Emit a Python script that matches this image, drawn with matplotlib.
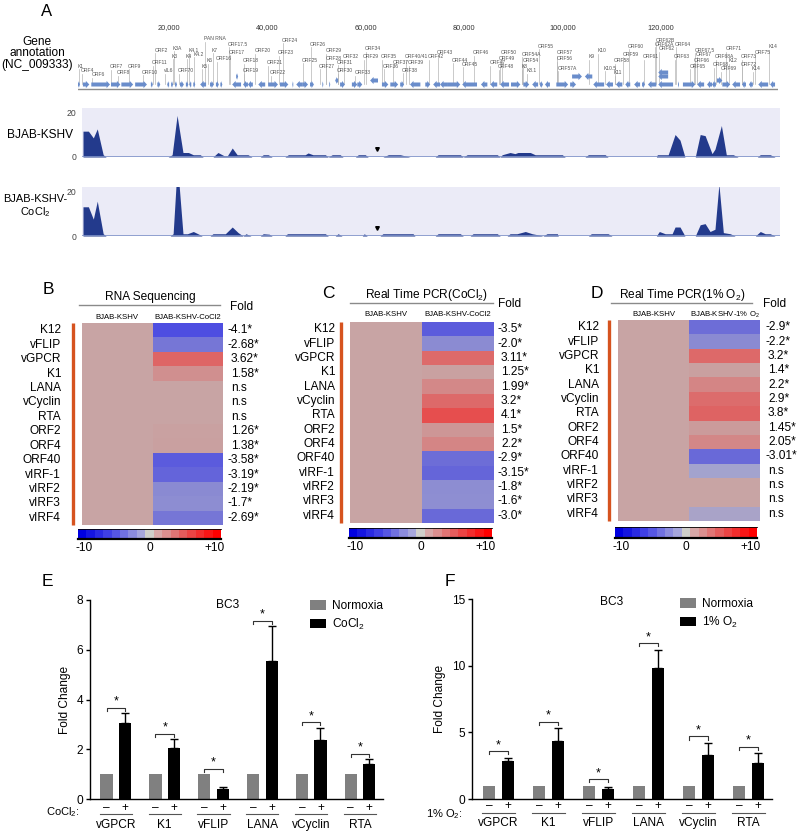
import numpy as np
import matplotlib
matplotlib.use('Agg')
import matplotlib.pyplot as plt
from matplotlib.colors import LinearSegmentedColormap, Normalize
from matplotlib.patches import Polygon, Patch
from matplotlib.lines import Line2D

plt.rcParams['font.family'] = ['Liberation Sans', 'DejaVu Sans']
plt.rcParams['mathtext.fontset'] = 'custom'
plt.rcParams['mathtext.rm'] = 'Liberation Sans'
plt.rcParams['mathtext.it'] = 'Liberation Sans:italic'
plt.rcParams['mathtext.bf'] = 'Liberation Sans:bold'

# ---------------------------------------------------------------- data
genome_ticks_kb = [20, 40, 60, 80, 100, 120]

gene_start = [1.6, 2.6, 4.3, 8.3, 10.4, 13.2, 16.4, 17.7, 19.7, 20.5, 21.3, 22.3, 23.5, 24.2,
              25.0, 26.4, 28.4, 29.6, 30.5, 33.7, 32.9, 35.1, 36.1, 38.2, 40.2, 42.6, 45.1, 45.9,
              47.1, 48.7, 51.2, 52.6, 53.8, 54.8, 57.2, 58.3, 60.9, 63.3, 65.0, 67.0, 69.0, 72.1,
              73.7, 75.1, 76.7, 79.6, 83.4, 85.3, 87.3, 89.5, 92.0, 93.8, 95.4, 96.4, 98.7, 101.5,
              101.9, 104.5, 106.2, 108.8, 110.8, 112.7, 114.5, 116.1, 117.3, 119.4, 119.4, 119.4,
              123.4, 124.4, 127.3, 129.3, 130.3, 131.3, 132.4, 134.4, 136.4, 137.8, 139.7, 142.1]
gene_end = [2.0, 3.9, 8.1, 10.2, 12.8, 15.6, 16.8, 18.3, 20.1, 20.9, 21.7, 23.1, 24.0, 24.6,
            25.4, 27.6, 29.2, 30.2, 30.9, 34.1, 34.7, 36.1, 37.1, 39.6, 42.2, 44.3, 45.3, 47.1,
            48.3, 49.5, 51.4, 52.8, 54.4, 55.8, 58.3, 59.3, 62.5, 64.6, 66.6, 67.8, 71.1, 73.1,
            75.1, 76.7, 79.2, 82.6, 84.7, 86.7, 89.1, 91.4, 93.2, 95.0, 96.0, 97.4, 101.1, 102.7,
            103.9, 106.0, 108.4, 110.2, 112.1, 113.7, 115.7, 116.7, 119.0, 122.4, 121.4, 121.4,
            123.6, 126.9, 128.7, 130.3, 131.1, 132.4, 134.0, 136.0, 137.2, 138.6, 141.7, 143.1]
gene_strand = [1, 1, 1, 1, 1, 1, 1, 1, -1, 1, 1, 1, 1, -1,
               1, -1, 1, 1, 1, 1, -1, -1, -1, -1, 1, 1, -1, -1,
               1, 1, 1, 1, -1, 1, 1, 1, -1, 1, 1, 1, -1, 1,
               -1, -1, 1, -1, -1, -1, -1, 1, 1, -1, 1, -1, 1, 1,
               1, -1, -1, -1, -1, -1, -1, 1, -1, -1, -1, -1,
               1, 1, -1, -1, -1, 1, 1, -1, -1, -1, -1, -1]
gene_lane = [0, 0, 0, 0, 0, 0, 0, 0, 0, 0, 0, 0, 0, 0,
             0, 0, 0, 0, 0, 2, 0, 0, 0, 0, 0, 0, 0, 0,
             0, 0, 0, 0, 1, 0, 0, 0, 1, 0, 0, 0, 0, 0,
             0, 0, 0, 0, 0, 0, 0, 0, 0, 0, 0, 0, 0, 0,
             2, 2, 0, 0, 0, 0, 0, 0, 0, 0, 2, 3,
             0, 0, 0, 0, 0, 1, 0, 0, 0, 0, 0, 0]

label_names = ['K1', 'ORF4', 'ORF6', 'ORF7', 'ORF8', 'ORF9', 'ORF10', 'ORF11', 'ORF2', 'vIL6',
               'K3', 'K3A', 'ORF70', 'K4', 'K4.1', 'K4.2', 'K5', 'K6', 'PAN RNA', 'K7', 'ORF16',
               'ORF17.5', 'ORF17', 'ORF18', 'ORF19', 'ORF20', 'ORF21', 'ORF22', 'ORF23', 'ORF24',
               'ORF25', 'ORF26', 'ORF27', 'ORF28', 'ORF29', 'ORF30', 'ORF31', 'ORF32', 'ORF33',
               'ORF34', 'ORF29', 'ORF35', 'ORF36', 'ORF37', 'ORF38', 'ORF40/41', 'ORF39', 'ORF42',
               'ORF43', 'ORF44', 'ORF45', 'ORF46', 'ORF47', 'ORF48', 'ORF49', 'ORF50', 'ORF54A',
               'ORF54', 'K8', 'K8.1', 'ORF55', 'ORF57', 'ORF56', 'ORF57A', 'K9', 'K10', 'K10.5',
               'K11', 'ORF58', 'ORF59', 'ORF60', 'ORF61', 'ORF62B', 'ORF62A', 'ORF62', 'ORF64',
               'ORF63', 'ORF67.5', 'ORF67', 'ORF66', 'ORF65', 'ORF68A', 'ORF68', 'ORF69', 'K12',
               'ORF71', 'ORF73', 'ORF72', 'K14', 'ORF75', 'K14']
label_kb = [1.6, 2.2, 4.3, 8.1, 9.5, 11.8, 14.6, 16.6, 17.1, 19.1,
            20.7, 20.9, 21.9, 23.5, 24.0, 25.0, 26.6, 27.8, 27.2, 28.8, 29.6,
            32.1, 32.3, 35.1, 35.1, 37.4, 40.0, 40.6, 42.2, 43.0,
            47.1, 48.7, 50.5, 51.8, 51.8, 54.2, 54.2, 55.4, 57.7,
            59.9, 59.5, 63.1, 63.5, 65.4, 67.4, 68.0, 68.6, 72.7,
            74.5, 77.5, 79.6, 81.8, 85.1, 86.9, 87.1, 87.5, 91.6,
            91.8, 91.6, 92.6, 95.0, 98.7, 98.7, 98.9, 105.2, 107.0, 108.4,
            110.4, 110.4, 112.1, 113.3, 116.3, 118.8, 118.6, 119.4, 122.8,
            122.6, 126.7, 127.1, 126.5, 125.7, 130.9, 130.5, 132.0, 133.6,
            133.0, 136.2, 136.2, 138.4, 138.9, 141.7]
label_level = [66, 71, 75, 67, 73, 66, 72, 63, 50, 71,
               56, 48, 71, 56, 50, 54, 66, 61, 39, 50, 59,
               44, 52, 61, 71, 51, 63, 73, 53, 40,
               60, 44, 66, 58, 51, 71, 62, 57, 73,
               49, 57, 57, 66, 62, 70, 57, 63, 57,
               52, 60, 64, 53, 63, 67, 59, 53, 54,
               61, 67, 71, 46, 53, 59, 68, 57, 51, 68,
               73, 61, 54, 46, 57, 40, 44, 49, 44,
               57, 50, 54, 60, 66, 57, 65, 69, 61,
               49, 57, 64, 69, 52, 47]

cov1_kb = [2.6, 3.7, 4.7, 5.5, 6.7, 7.3, 19.9, 20.7, 21.7, 22.9, 24.0, 25.0, 26.4, 27.0,
           29.0, 30.0, 31.3, 31.9, 32.9, 33.9, 36.1, 36.9, 38.6, 39.2, 40.2, 41.0,
           43.6, 44.3, 47.7, 48.3, 49.3, 51.8, 52.4, 53.2, 54.8, 55.4, 57.9, 58.5, 59.9, 60.5,
           63.5, 64.6, 67.0, 69.0, 74.1, 74.7, 79.2, 79.8, 80.6, 86.7, 87.3,
           87.7, 89.3, 90.3, 90.9, 93.4, 94.4, 99.9, 100.5, 104.5, 105.2, 108.6, 109.2,
           119.0, 119.2, 121.4, 122.8, 123.8, 124.8, 126.9, 127.9, 128.9, 130.3, 130.9,
           132.2, 133.2, 134.6, 135.6, 139.5, 140.1, 142.1, 143.1]
cov1_val = [11.5, 11.5, 8.5, 12.5, 1, 0, 0, 1, 18.5, 2, 2, 1, 1, 0,
            0, 2, 0.5, 0.5, 4, 1, 1, 0, 0, 1, 1, 0,
            0, 1, 1, 1.8, 1, 1, 0, 1, 1, 0, 0, 1, 1, 0,
            0, 1, 1, 0, 0, 1, 1, 0, 1, 1, 0,
            1, 2, 1.5, 2, 2, 1, 1, 0, 0, 1, 1, 0,
            0, 1, 1, 10, 7.5, 0, 0, 10, 9.5, 1.5, 3.5,
            14, 1, 1, 0, 0, 1, 1, 0]
cov2_kb = [2.6, 3.7, 4.7, 5.5, 6.7, 7.3, 20.3, 20.9, 21.5, 22.1, 22.9, 23.8, 25.0, 26.4, 26.8,
           28.4, 29.0, 31.5, 32.9, 34.1, 35.1, 35.7, 36.7, 38.6, 39.2, 40.4, 41.0,
           43.6, 44.1, 51.8, 52.4, 53.8, 54.4, 55.2, 59.3, 59.7, 60.3,
           62.9, 63.5, 67.0, 69.6, 70.0, 74.1, 74.7, 79.2, 79.8, 81.2, 81.8, 86.7, 87.3,
           88.7, 89.3, 90.7, 92.4, 93.8, 95.0, 96.0, 96.8, 98.9, 99.1, 105.2, 105.8, 109.2, 110.0,
           119.0, 119.6, 120.8, 122.2, 122.8, 123.8, 124.8, 126.9, 127.9, 128.9, 129.9, 130.9,
           131.7, 132.6, 134.0, 135.0, 139.1, 140.1, 141.1, 142.1, 143.1]
cov2_val = [13, 13, 7.5, 15.5, 1, 0, 0, 1, 23, 23, 1, 1, 2, 0.5, 0,
            0, 1, 1, 4, 1.5, 0, 1, 0, 0, 1, 0.8, 0,
            0, 1, 1, 0, 0, 1, 0, 0, 1, 0,
            0, 1, 1, 1, 0, 0, 1, 1, 0, 0, 1, 1, 0,
            0, 1, 1, 2, 1, 0.5, 0, 1, 1, 0, 0, 1, 1, 0,
            0, 2, 1, 1, 4, 4, 0, 0, 5, 5.5, 2, 3,
            23, 1.5, 1, 0, 0, 2, 1, 1, 0]
marker_kb = 62.3
marker_val = 3.5

heat_rows = ['K12', 'vFLIP', 'vGPCR', 'K1', 'LANA', 'vCyclin', 'RTA', 'ORF2', 'ORF4',
             'ORF40', 'vIRF-1', 'vIRF2', 'vIRF3', 'vIRF4']
b_fold = [-4.1, -2.68, 3.62, 1.58, 1.0, 1.0, 1.0, 1.26, 1.38, -3.58, -3.19, -2.19, -1.7, -2.69]
b_labels = ['-4.1*', '-2.68*', '3.62*', '1.58*', 'n.s', 'n.s', 'n.s', '1.26*', '1.38*',
            '-3.58*', '-3.19*', '-2.19*', '-1.7*', '-2.69*']
c_fold = [-3.5, -2.0, 3.11, 1.25, 1.99, 3.2, 4.1, 1.5, 2.2, -2.9, -3.15, -1.8, -1.6, -3.0]
c_labels = ['-3.5*', '-2.0*', '3.11*', '1.25*', '1.99*', '3.2*', '4.1*', '1.5*', '2.2*',
            '-2.9*', '-3.15*', '-1.8*', '-1.6*', '-3.0*']
d_fold = [-2.9, -2.2, 3.2, 1.4, 2.2, 2.9, 3.8, 1.45, 2.05, -3.01, -1.3, 1.0, 1.0, -1.25]
d_labels = ['-2.9*', '-2.2*', '3.2*', '1.4*', '2.2*', '2.9*', '3.8*', '1.45*', '2.05*',
            '-3.01*', 'n.s', 'n.s', 'n.s', 'n.s']
control_fold = 1.0

bar_genes = ['vGPCR', 'K1', 'vFLIP', 'LANA', 'vCyclin', 'RTA']
e_normoxia = [1, 1, 1, 1, 1, 1]
e_cocl2 = [3.04, 2.04, 0.40, 5.56, 2.37, 1.41]
e_cocl2_err = [0.41, 0.36, 0.07, 1.39, 0.50, 0.19]
f_normoxia = [1, 1, 1, 1, 1, 1]
f_o2 = [2.85, 4.38, 0.78, 9.85, 3.30, 2.73]
f_o2_err = [0.25, 0.92, 0.10, 1.35, 0.90, 0.70]

# ---------------------------------------------------------------- helpers
W, H = 800, 834
fig = plt.figure(figsize=(8, 8.34), dpi=100)


def rect(x0, y0, x1, y1):
    return [x0 / W, 1 - y1 / H, (x1 - x0) / W, (y1 - y0) / H]


def ftext(x, y, s, **kw):
    kw.setdefault('va', 'center')
    return fig.text(x / W, 1 - y / H, s, **kw)


def fline(x0, y0, x1, y1, **kw):
    fig.add_artist(Line2D([x0 / W, x1 / W], [1 - y0 / H, 1 - y1 / H], **kw))


FS = 8.6

# ---------------------------------------------------------------- panel A
ftext(47, 11, 'A', fontsize=12, ha='center')
ftext(37, 42, 'Gene', fontsize=FS, ha='center')
ftext(37, 53, 'annotation', fontsize=FS, ha='center')
ftext(37, 65, '(NC_009333)', fontsize=FS, ha='center')

axA = fig.add_axes(rect(78, 34, 778, 95))
axA.set_xlim(1.6, 143.7)
axA.set_ylim(95, 34)
for sp in axA.spines.values():
    sp.set_visible(False)
axA.set_yticks([])
axA.xaxis.tick_top()
axA.set_xticks(genome_ticks_kb)
axA.set_xticklabels([f'{int(t * 1000):,}' for t in genome_ticks_kb])
axA.tick_params(axis='x', length=0, pad=2, labelsize=5.3, labelcolor='#333333')
axA.plot([1.6, 143.7], [88.5, 88.5], color='#8c8c8c', lw=1.0, zorder=1)

lane_y = {0: 84.5, 1: 80.5, 2: 76.5, 3: 72.5}
for s, e, st, ln in zip(gene_start, gene_end, gene_strand, gene_lane):
    yc = lane_y[ln]
    L = e - s
    hl = min(0.7, 0.6 * L)
    bh, hh = 2.0, 3.6
    if st > 0:
        xs = [s, e - hl, e - hl, e, e - hl, e - hl, s]
    else:
        xs = [e, s + hl, s + hl, s, s + hl, s + hl, e]
    ys = [yc - bh, yc - bh, yc - hh, yc, yc + hh, yc + bh, yc + bh]
    axA.add_patch(Polygon(np.column_stack([xs, ys]), closed=True,
                          facecolor='#6a8dcb', edgecolor='none', zorder=3))

for name, x, lv in zip(label_names, label_kb, label_level):
    axA.plot([x + 0.15, x + 0.15], [lv + 2.5, 84], color='#b5b5b5', lw=0.5, zorder=2)
    axA.text(x, lv, name, fontsize=3.6, color='#555555', ha='left', va='center', zorder=4)


def coverage(y0, y1, xs, vals):
    ax = fig.add_axes(rect(82, y0, 780, y1))
    ax.set_facecolor('#ebebf7')
    ax.set_xlim(2.4, 144.1)
    ax.set_ylim(0, 21.8)
    ax.fill_between(xs, vals, 0, color='#233a8c', lw=0, zorder=2)
    ax.axhline(0, color='#7f93c9', lw=1.2, zorder=3)
    ax.plot([marker_kb], [marker_val], marker='v', color='black', ms=2.6, zorder=4)
    for sp in ax.spines.values():
        sp.set_visible(False)
    ax.set_xticks([])
    ax.set_yticks([0, 20])
    ax.tick_params(axis='y', length=0, pad=4, labelsize=6.2, labelcolor='#444444')
    return ax


coverage(108, 157, cov1_kb, cov1_val)
coverage(187, 236, cov2_kb, cov2_val)
ftext(40, 135, 'BJAB-KSHV', fontsize=FS, ha='center')
ftext(35, 199, 'BJAB-KSHV-', fontsize=7.9, ha='center')
ftext(35, 212, r'CoCl$_2$', fontsize=7.9, ha='center')

# ---------------------------------------------------------------- heatmaps
t_max = 3.1
heat_nodes = [(-3.1, '#4e4ee1'), (-2.0, '#6969d8'), (-1.2, '#8a8ad2'), (-0.6, '#8e8ed2'),
              (-0.3, '#a3a3ce'), (0.0, '#c8a4a4'), (0.4, '#c9a0a0'), (0.6, '#d18c8c'),
              (1.2, '#d48585'), (1.9, '#dc6c6c'), (2.8, '#de6464'), (3.1, '#e64e4e')]
heat_cmap = LinearSegmentedColormap.from_list(
    'heat', [((t + t_max) / (2 * t_max), c) for t, c in heat_nodes])
bar_cmap = LinearSegmentedColormap.from_list(
    'bar', [(0, '#0000e0'), (0.22, '#4a4ae6'), (0.44, '#a8a8dc'), (0.5, '#cfcfca'),
            (0.56, '#d8aaaa'), (0.78, '#e85050'), (1, '#ff0000')], N=17)


def to_t(v):
    v = np.asarray(v, float)
    return np.sign(v) * np.maximum(np.abs(v) - 1, 0)


def heatmap(letter, lx, ly, title, tx, ty, line, fold_xy, col_y, col_labels, box,
            row_x, bar_x, fold_x, folds, labels, cbar_box):
    x0, y0, x1, y1 = box
    ftext(lx, ly, letter, fontsize=12.5, ha='center')
    ftext(tx, ty, title, fontsize=FS, ha='center')
    fline(line[0], line[2], line[1], line[2], color='#8a8a8a', lw=1.0)
    ftext(fold_xy[0], fold_xy[1], 'Fold', fontsize=FS, ha='left')
    ftext((3 * x0 + x1) / 4, col_y, col_labels[0], fontsize=5.6, ha='center')
    ftext((x0 + 3 * x1) / 4, col_y, col_labels[1], fontsize=5.6, ha='center')
    ax = fig.add_axes(rect(x0, y0, x1, y1))
    n = len(heat_rows)
    vals = np.column_stack([to_t(np.full(n, control_fold)), to_t(folds)])
    ax.pcolormesh(np.arange(3), np.arange(n + 1), vals, cmap=heat_cmap,
                  norm=Normalize(-t_max, t_max), edgecolors='none', antialiased=False)
    ax.set_ylim(n, 0)
    ax.set_xlim(0, 2)
    ax.axis('off')
    tr = ax.get_yaxis_transform()
    for i, (r, lab) in enumerate(zip(heat_rows, labels)):
        fx = (row_x - x0) / (x1 - x0)
        ax.text(fx, i + 0.5, r, transform=tr, fontsize=FS, ha='right', va='center')
        off = 0 if lab.startswith('-') else 3
        gx = (fold_x + off - x0) / (x1 - x0)
        ax.text(gx, i + 0.5, lab, transform=tr, fontsize=FS, ha='left', va='center')
    fline(bar_x, y0, bar_x, y1, color='#d6531f', lw=2.4, solid_capstyle='butt')
    cx0, cy0, cx1, cy1 = cbar_box
    cax = fig.add_axes(rect(cx0, cy0, cx1, cy1))
    cax.imshow(np.linspace(-10, 10, 17)[None, :], cmap=bar_cmap, aspect='auto',
               extent=(-11, 11, 0, 1), interpolation='nearest')
    cax.set_yticks([])
    cax.set_xticks([-10, 0, 10])
    cax.set_xticklabels(['-10', '0', '+10'])
    cax.tick_params(axis='x', length=0, pad=2, labelsize=FS)
    for k, sp in cax.spines.items():
        sp.set_color('black')
        sp.set_linewidth(0.6)
    cax.spines['bottom'].set_linewidth(1.6)
    cax.spines['left'].set_visible(False)
    cax.spines['right'].set_visible(False)


heatmap('B', 48, 289, 'RNA Sequencing', 150, 297, (79, 220, 305), (230, 307), 317,
        ['BJAB-KSHV', 'BJAB-KSHV-CoCl2'], (82, 323, 223, 525), 61, 73, 228,
        b_fold, b_labels, (78, 529, 221, 539))
heatmap('C', 328, 293, r'Real Time PCR(CoCl$_2$)', 427, 295, (350, 493, 303), (498, 304), 315,
        ['BJAB-KSHV', 'BJAB-KSHV-CoCl2'], (350, 322, 494, 523), 335, 341, 498,
        c_fold, c_labels, (349, 528, 492, 538))
heatmap('D', 597, 293, r'Real Time PCR(1% O$_2$)', 682, 295, (611, 752, 303), (763, 304), 315,
        ['BJAB-KSHV', r'BJAB-KSHV-1% O$_2$'], (618, 320, 760, 521), 599, 609, 765,
        d_fold, d_labels, (615, 527, 757, 538))

# ---------------------------------------------------------------- bar charts


def barpanel(letter, lxy, box, ymax, yticks, norm, treat, err, treat_label, xlab,
             bc3_xy, leg_xy, brk_off, tick_d, y_pm, y_line, y_name, xlab_xy):
    ftext(lxy[0], lxy[1], letter, fontsize=12.5, ha='center')
    ax = fig.add_axes(rect(*box))
    n = len(bar_genes)
    x = np.arange(n)
    w, off = 0.25, 0.19
    ax.bar(x - off, norm, width=w, color='#808080', zorder=2)
    ax.bar(x + off, treat, width=w, color='black', zorder=2)
    ax.errorbar(x + off, treat, yerr=[np.zeros(n), err], fmt='none', ecolor='black',
                elinewidth=1.0, capsize=3, capthick=1.0, zorder=3)
    ax.set_xlim(-0.53, n - 1 + 0.47)
    ax.set_ylim(0, ymax)
    ax.set_yticks(yticks)
    ax.spines['top'].set_visible(False)
    ax.spines['right'].set_visible(False)
    ax.spines['left'].set_linewidth(1.0)
    ax.spines['bottom'].set_linewidth(1.0)
    ax.set_xticks([])
    ax.tick_params(axis='y', length=3, width=1, labelsize=FS, pad=2)
    ax.set_ylabel('Fold Change', fontsize=FS, labelpad=4)
    for i in range(n):
        h = max(norm[i], treat[i] + err[i]) + brk_off
        xa, xb = i - off, i + off
        ax.plot([xa, xa, xb, xb], [h - tick_d, h, h, h - tick_d], color='#333333', lw=0.8)
        ax.text(i, h, '*', fontsize=9, ha='center', va='bottom')
    tr = ax.get_xaxis_transform()
    for i, g in enumerate(bar_genes):
        ax.text(i - off, y_pm, '–', transform=tr, fontsize=FS, ha='center', va='center')
        ax.text(i + off, y_pm, '+', transform=tr, fontsize=FS, ha='center', va='center')
        ax.plot([i - 0.33, i + 0.33], [y_line, y_line], transform=tr, color='#555555',
                lw=0.8, clip_on=False)
        ax.text(i, y_name, g, transform=tr, fontsize=FS, ha='center', va='center')
    ftext(xlab_xy[0], xlab_xy[1], xlab, fontsize=8.0, ha='right')
    ftext(bc3_xy[0], bc3_xy[1], 'BC3', fontsize=FS, ha='center')
    handles = [Patch(facecolor='#808080', edgecolor='none', label='Normoxia'),
               Patch(facecolor='black', edgecolor='none', label=treat_label)]
    fig.legend(handles=handles, loc='upper left',
               bbox_to_anchor=(leg_xy[0] / W, 1 - leg_xy[1] / H), frameon=False,
               fontsize=FS, handlelength=1.35, handleheight=0.85, handletextpad=0.5,
               labelspacing=0.4, borderpad=0, borderaxespad=0)
    return ax


barpanel('E', (47, 582), (90, 600, 383, 799), 8, [0, 2, 4, 6, 8], e_normoxia, e_cocl2,
         e_cocl2_err, r'CoCl$_2$', r'CoCl$_2$:', (228, 605), (310, 600), 0.22, 0.12,
         -0.045, -0.075, -0.13, (79, 812))
barpanel('F', (450, 582), (472, 599, 772, 799), 15, [0, 5, 10, 15], f_normoxia, f_o2,
         f_o2_err, r'1% O$_2$', r'1% O$_2$:', (612, 602), (680, 598), 0.5, 0.25,
         -0.035, -0.07, -0.12, (463, 814))

fig.savefig('out.png', dpi=100)
